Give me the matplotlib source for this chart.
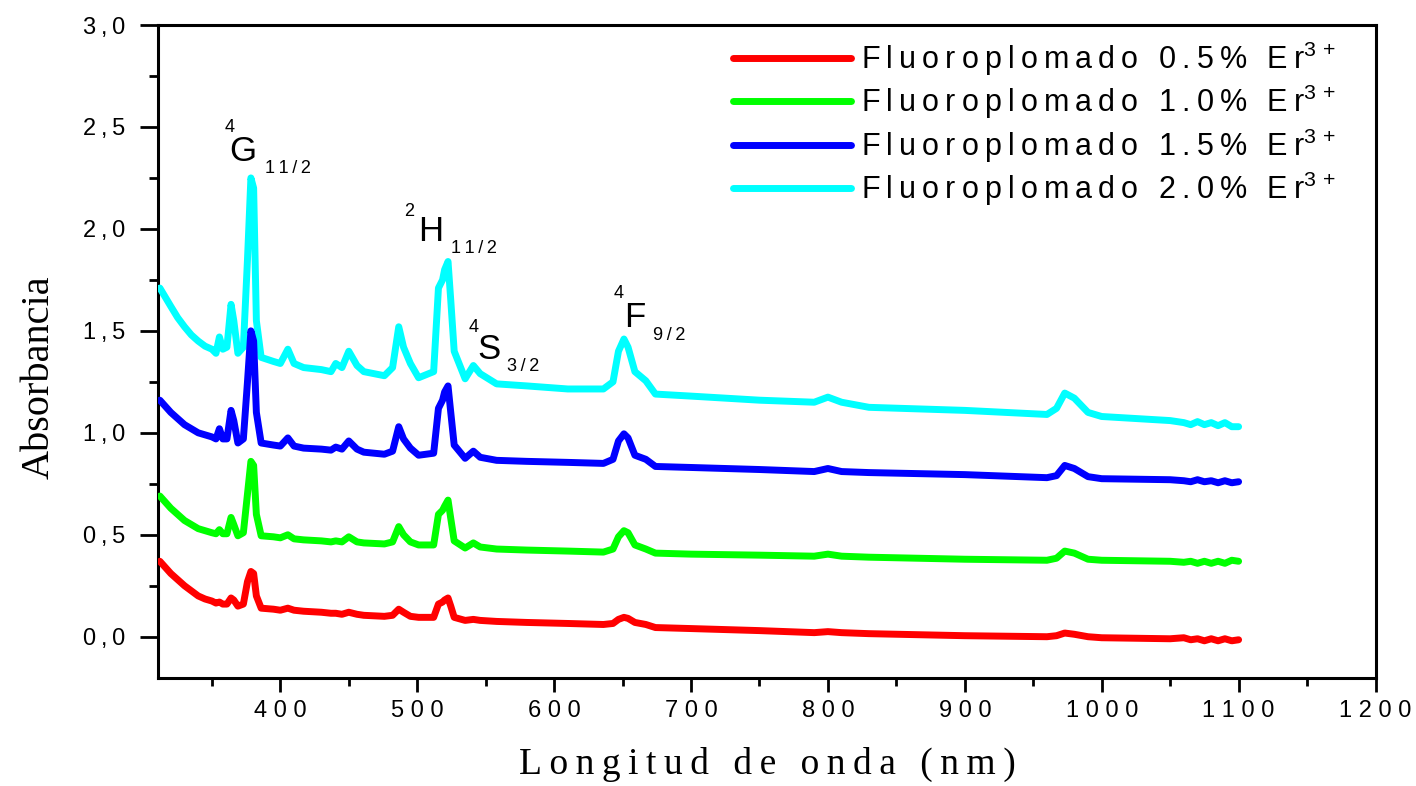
import matplotlib
matplotlib.use('Agg')
import matplotlib.pyplot as plt
from matplotlib.ticker import MultipleLocator

# ---------------- data ----------------
wavelength = [312, 316, 320, 325, 330, 335, 340, 345, 350, 353, 355.5, 358, 361, 364,
              366, 369, 373, 376, 378.5, 380.5, 382.5, 386, 395, 400, 405.5, 410, 417,
              430, 437, 440.5, 445, 450, 456, 461, 476, 482, 486.5, 490, 495, 501,
              512, 515.5, 518.5, 520, 522.5, 524.5, 527, 535, 541, 546, 558, 580, 610,
              636, 643, 647, 651, 654, 659, 667, 674, 700, 750, 790, 800, 810, 830,
              900, 960, 967, 973, 980, 990, 1000, 1050, 1060, 1065, 1070, 1075, 1080,
              1085, 1090, 1095, 1100]

abs_05 = [0.37, 0.34, 0.31, 0.28, 0.25, 0.225, 0.20, 0.185, 0.175, 0.165, 0.17, 0.16,
          0.16, 0.19, 0.18, 0.15, 0.16, 0.27, 0.32, 0.31, 0.20, 0.14, 0.135, 0.13,
          0.14, 0.13, 0.125, 0.12, 0.115, 0.115, 0.11, 0.12, 0.11, 0.105, 0.10,
          0.105, 0.135, 0.12, 0.10, 0.095, 0.095, 0.16, 0.17, 0.18, 0.19, 0.15,
          0.095, 0.08, 0.085, 0.08, 0.075, 0.07, 0.065, 0.06, 0.065, 0.085, 0.095,
          0.09, 0.07, 0.06, 0.045, 0.04, 0.03, 0.02, 0.025, 0.02, 0.015, 0.005, 0.0,
          0.005, 0.018, 0.012, 0.0, -0.005, -0.01, -0.005, -0.015, -0.01, -0.02,
          -0.01, -0.02, -0.01, -0.02, -0.015]

abs_10 = [0.69, 0.66, 0.63, 0.60, 0.57, 0.55, 0.53, 0.52, 0.51, 0.505, 0.525, 0.505,
          0.505, 0.585, 0.55, 0.495, 0.51, 0.70, 0.86, 0.84, 0.60, 0.495, 0.49,
          0.485, 0.50, 0.48, 0.475, 0.47, 0.465, 0.47, 0.465, 0.49, 0.465, 0.46,
          0.455, 0.465, 0.54, 0.50, 0.465, 0.45, 0.45, 0.60, 0.62, 0.64, 0.67, 0.58,
          0.47, 0.435, 0.46, 0.44, 0.43, 0.425, 0.42, 0.415, 0.43, 0.49, 0.52, 0.51,
          0.45, 0.43, 0.41, 0.405, 0.40, 0.395, 0.405, 0.395, 0.39, 0.38, 0.375,
          0.385, 0.42, 0.41, 0.38, 0.375, 0.37, 0.365, 0.37, 0.36, 0.37, 0.36, 0.37,
          0.36, 0.375, 0.37]

abs_15 = [1.16, 1.13, 1.10, 1.07, 1.04, 1.02, 1.00, 0.99, 0.98, 0.97, 1.02, 0.97,
          0.97, 1.11, 1.06, 0.95, 0.97, 1.25, 1.50, 1.45, 1.10, 0.95, 0.94, 0.935,
          0.975, 0.935, 0.925, 0.92, 0.915, 0.93, 0.92, 0.96, 0.92, 0.905, 0.895,
          0.91, 1.03, 0.97, 0.925, 0.89, 0.90, 1.12, 1.16, 1.20, 1.23, 1.10, 0.94,
          0.875, 0.91, 0.88, 0.865, 0.86, 0.855, 0.85, 0.87, 0.96, 0.995, 0.975,
          0.89, 0.87, 0.835, 0.83, 0.82, 0.81, 0.825, 0.81, 0.805, 0.795, 0.78,
          0.79, 0.84, 0.825, 0.785, 0.775, 0.77, 0.765, 0.76, 0.77, 0.76, 0.765,
          0.755, 0.765, 0.755, 0.76]

abs_20 = [1.71, 1.665, 1.62, 1.565, 1.52, 1.48, 1.45, 1.425, 1.41, 1.39, 1.47, 1.41,
          1.42, 1.63, 1.55, 1.39, 1.42, 1.85, 2.25, 2.20, 1.55, 1.37, 1.35, 1.34,
          1.41, 1.34, 1.32, 1.31, 1.30, 1.34, 1.32, 1.40, 1.33, 1.30, 1.28, 1.32,
          1.52, 1.42, 1.34, 1.27, 1.30, 1.71, 1.75, 1.80, 1.84, 1.65, 1.40, 1.265,
          1.33, 1.29, 1.24, 1.23, 1.215, 1.215, 1.25, 1.40, 1.46, 1.42, 1.30, 1.255,
          1.19, 1.18, 1.16, 1.15, 1.175, 1.15, 1.125, 1.11, 1.09, 1.12, 1.195, 1.17,
          1.10, 1.08, 1.06, 1.05, 1.04, 1.055, 1.04, 1.05, 1.035, 1.05, 1.03, 1.03]

concentrations = ['0.5%', '1.0%', '1.5%', '2.0%']
series_colors = ['#ff0000', '#00ff00', '#0000ff', '#00ffff']
series = [abs_05, abs_10, abs_15, abs_20]

x_ticks = [400, 500, 600, 700, 800, 900, 1000, 1100, 1200]
y_ticks = [0.0, 0.5, 1.0, 1.5, 2.0, 2.5, 3.0]

# transition labels: (superscript, letter, subscript, positions of the three parts)
transitions = [
    ('4', 'G', '11/2', (363.0, 2.474), (372.9, 2.335), (405.9, 2.275)),
    ('2', 'H', '11/2', (494.0, 2.063), (509.7, 1.940), (541.2, 1.881)),
    ('4', 'S', '3/2', (541.0, 1.493), (552.2, 1.360), (577.0, 1.301)),
    ('4', 'F', '9/2', (647.0, 1.660), (659.0, 1.518), (683.8, 1.454)),
]

# ---------------- style ----------------
TS = '\u2009'
plt.rcParams['font.family'] = ['Liberation Sans', 'DejaVu Sans']
plt.rcParams['mathtext.fontset'] = 'custom'
plt.rcParams['mathtext.rm'] = 'Liberation Sans'
plt.rcParams['mathtext.it'] = 'Liberation Sans:italic'
plt.rcParams['mathtext.bf'] = 'Liberation Sans:bold'


def spaced(s, sep=TS):
    return sep.join(s)


fig = plt.figure(figsize=(14.16, 7.86), dpi=100)
ax = fig.add_axes([0.11193, 0.13804, 0.85947, 0.83015])

n = len(series)
for i in reversed(range(n)):
    label = (spaced('Fluoroplomado') + TS + ' ' + TS + spaced(concentrations[i]) +
             TS + ' ' + TS + 'E' + TS + r'r$^{3\,+}$')
    ax.plot(wavelength, series[i], color=series_colors[i], lw=5,
            solid_joinstyle='round', solid_capstyle='round', label=label,
            zorder=2 + (n - i))

ax.set_xlim(311, 1200)
ax.set_ylim(-0.2, 3.0)

ax.set_xticks(x_ticks)
ax.set_xticklabels([' '.join(str(v)) for v in x_ticks])
ax.xaxis.set_minor_locator(MultipleLocator(50))
ax.set_yticks(y_ticks)
ax.set_yticklabels([spaced(f'{v:.1f}'.replace('.', ',')) for v in y_ticks])
ax.yaxis.set_minor_locator(MultipleLocator(0.25))

for s in ax.spines.values():
    s.set_linewidth(2.2)

ax.tick_params(axis='x', which='major', length=10, width=2, pad=6, labelsize=17,
               direction='out')
ax.tick_params(axis='x', which='minor', length=5.5, width=2, direction='out')
ax.tick_params(axis='y', which='major', length=13, width=2, pad=11, labelsize=17,
               direction='out')
ax.tick_params(axis='y', which='minor', length=6.5, width=2, direction='out')
ax.tick_params(top=False, right=False, which='both')

ax.set_xlabel(spaced('Longitud de onda (nm)'),
              family=['Liberation Serif', 'DejaVu Serif'], fontsize=27, labelpad=18)
ax.set_ylabel('Absorbancia', family=['Liberation Serif', 'DejaVu Serif'], fontsize=29)
ax.yaxis.set_label_coords(-0.083, 0.4605)

for sup, big, sub, p_sup, p_big, p_sub in transitions:
    ax.text(p_sup[0], p_sup[1], sup, fontsize=13, ha='center', va='baseline')
    ax.text(p_big[0], p_big[1], big, fontsize=25, ha='center', va='baseline')
    ax.text(p_sub[0], p_sub[1], spaced(sub), fontsize=13, ha='center', va='baseline')

handles, labels = ax.get_legend_handles_labels()
handles, labels = handles[::-1], labels[::-1]
ax.legend(handles, labels, loc='upper left', bbox_to_anchor=(0.472, 0.978),
          frameon=False, fontsize=22, handlelength=3.85, handletextpad=0.33,
          labelspacing=0.17, borderpad=0, borderaxespad=0)

fig.savefig('out.png', dpi=100)
